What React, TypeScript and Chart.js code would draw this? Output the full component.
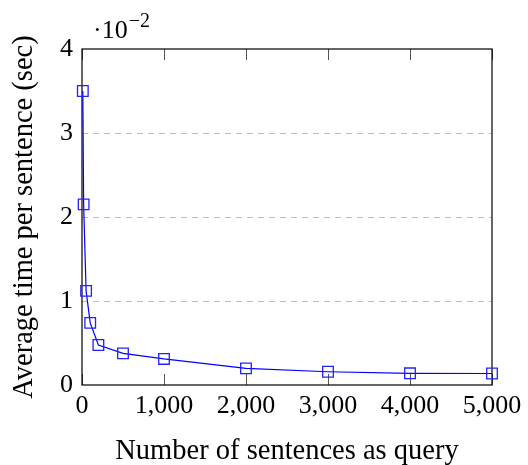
import React, { useEffect, useRef } from "react";
import { Chart, registerables } from "chart.js";

Chart.register(...registerables);

const sentences = [10, 20, 50, 100, 200, 500, 1000, 2000, 3000, 4000, 5000];
const avgTime = [3.5, 2.15, 1.12, 0.74, 0.476, 0.377, 0.31, 0.198, 0.158, 0.139, 0.137];
const xTicks = [0, 1000, 2000, 3000, 4000, 5000];
const yTicks = [0, 1, 2, 3, 4];
const xTitle = "Number of sentences as query";
const yTitle = "Average time per sentence (sec)";
const FONT = "'Liberation Serif', 'Times New Roman', serif";

const framePlugin = {
  id: "framePlugin",
  beforeDatasetsDraw(chart: any) {
    const { ctx, chartArea: a, scales } = chart;
    const x = scales.x, y = scales.y;
    ctx.save();
    ctx.strokeStyle = "#bdbdbd";
    ctx.lineWidth = 1;
    ctx.setLineDash([6, 5]);
    for (const v of [1, 2, 3]) {
      const py = Math.round(y.getPixelForValue(v)) + 0.5;
      ctx.beginPath();
      ctx.moveTo(a.left, py);
      ctx.lineTo(a.right, py);
      ctx.stroke();
    }
    ctx.setLineDash([]);
    ctx.strokeStyle = "#555";
    for (const v of xTicks) {
      const px = Math.round(x.getPixelForValue(v)) + 0.5;
      ctx.beginPath();
      ctx.moveTo(px, a.bottom);
      ctx.lineTo(px, a.bottom - 11);
      ctx.moveTo(px, a.top);
      ctx.lineTo(px, a.top + 11);
      ctx.stroke();
    }
    ctx.strokeStyle = "#000";
    ctx.lineWidth = 1.2;
    ctx.strokeRect(a.left, a.top, a.right - a.left, a.bottom - a.top);
    ctx.restore();
  },
  afterDraw(chart: any) {
    const { ctx } = chart;
    ctx.save();
    ctx.fillStyle = "#000";
    ctx.textBaseline = "alphabetic";
    ctx.textAlign = "left";
    ctx.font = `26px ${FONT}`;
    ctx.fillText("\u00B710", 93, 38);
    const w = ctx.measureText("\u00B710").width;
    ctx.font = `20px ${FONT}`;
    ctx.fillText("\u22122", 93 + w + 1, 27);
    ctx.restore();
  },
};

export default function App() {
  const ref = useRef<HTMLCanvasElement | null>(null);
  useEffect(() => {
    if (!ref.current) return;
    const chart = new Chart(ref.current, {
      type: "line",
      data: {
        datasets: [
          {
            data: sentences.map((s, i) => ({ x: s, y: avgTime[i] })),
            borderColor: "#0000ff",
            borderWidth: 1.2,
            pointStyle: "rect",
            pointRadius: 7.5,
            pointBorderWidth: 1.3,
            pointBorderColor: "#2222ff",
            pointBackgroundColor: "rgba(0,0,0,0)",
            tension: 0,
            clip: false,
          } as any,
        ],
      },
      options: {
        animation: false,
        responsive: false,
        maintainAspectRatio: false,
        layout: { padding: { top: 49, right: 36, left: 0, bottom: 0 } },
        plugins: { legend: { display: false }, tooltip: { enabled: false } },
        scales: {
          x: {
            type: "linear",
            min: 0,
            max: 5000,
            afterBuildTicks: (s: any) => {
              s.ticks = xTicks.map((v) => ({ value: v }));
            },
            afterFit: (s: any) => {
              s.height = 80;
            },
            grid: { display: false, drawTicks: false },
            border: { display: false },
            ticks: {
              padding: 6,
              color: "#000",
              font: { family: FONT, size: 26 },
              maxRotation: 0,
              callback: (v: any) => Number(v).toLocaleString("en-US"),
            },
            title: {
              display: true,
              text: xTitle,
              color: "#000",
              font: { family: FONT, size: 28.5, lineHeight: 1 },
              padding: { top: 0, bottom: -1 },
            },
          },
          y: {
            min: 0,
            max: 4,
            afterBuildTicks: (s: any) => {
              s.ticks = yTicks.map((v) => ({ value: v }));
            },
            afterFit: (s: any) => {
              s.width = 82;
            },
            grid: { display: false, drawTicks: false },
            border: { display: false },
            ticks: {
              padding: 9,
              color: "#000",
              font: { family: FONT, size: 26 },
            },
            title: {
              display: true,
              text: yTitle,
              color: "#000",
              font: { family: FONT, size: 28.5, lineHeight: 1 },
              padding: { top: 10, bottom: 0 },
            },
          },
        },
      },
      plugins: [framePlugin],
    });
    return () => chart.destroy();
  }, []);
  return (
    <div style={{ position: "absolute", left: 0, top: 0, width: 528, height: 465, background: "#fff" }}>
      <canvas ref={ref} width={528} height={465} style={{ width: 528, height: 465 }} />
    </div>
  );
}
